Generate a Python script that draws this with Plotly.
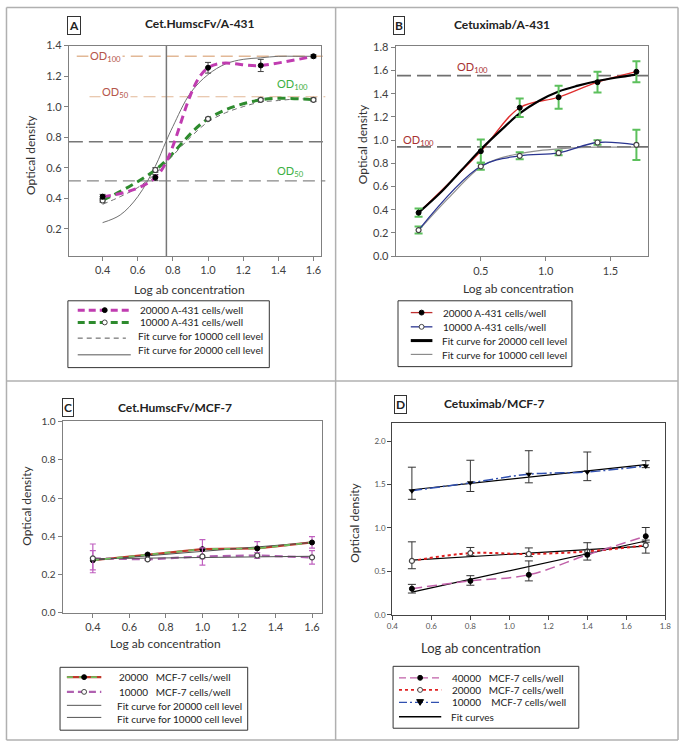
import plotly.graph_objects as go

W, H = 685, 747
FONT = "Lato"


def px(v):
    return v / W


def py(v):
    return 1 - v / H


# ---------------- Panel A : Cet.HumscFv / A-431 ----------------
a_x = [0.40, 0.70, 1.00, 1.30, 1.60]
a_20000 = [0.41, 0.535, 1.255, 1.27, 1.33]
a_20000_err = [0.015, 0.02, 0.035, 0.04, 0.01]
a_10000 = [0.385, 0.585, 0.92, 1.045, 1.045]
a_10000_err = [0.012, 0.015, 0.01, 0.01, 0.012]
a_fit_x = [0.40, 0.50, 0.60, 0.70, 0.76, 0.80, 0.90, 1.00, 1.10, 1.20, 1.30, 1.40, 1.50, 1.60]
a_fit20000 = [0.24, 0.29, 0.41, 0.61, 0.77, 0.87, 1.09, 1.21, 1.28, 1.31, 1.32, 1.33, 1.33, 1.33]
a_fit10000 = [0.36, 0.41, 0.47, 0.56, 0.63, 0.68, 0.80, 0.90, 0.96, 1.00, 1.03, 1.04, 1.05, 1.05]
a_od100 = 1.33
a_od50 = 1.065
a_half20000 = 0.77
a_half10000 = 0.513
a_ec50 = 0.763

# ---------------- Panel B : Cetuximab / A-431 ----------------
b_x = [0.02, 0.50, 0.80, 1.10, 1.40, 1.70]
b_20000 = [0.375, 0.905, 1.28, 1.37, 1.50, 1.59]
b_20000_err = [0.035, 0.10, 0.08, 0.10, 0.09, 0.09]
b_10000 = [0.225, 0.775, 0.865, 0.89, 0.98, 0.96]
b_10000_err = [0.03, 0.03, 0.03, 0.02, 0.02, 0.13]
b_fit20000_x = [0.02, 0.20, 0.35, 0.50, 0.65, 0.80, 0.95, 1.10, 1.25, 1.40, 1.55, 1.70]
b_fit20000 = [0.375, 0.56, 0.74, 0.92, 1.08, 1.23, 1.34, 1.42, 1.47, 1.51, 1.54, 1.565]
b_fit10000_x = [0.02, 0.25, 0.50, 0.65, 0.80, 0.95, 1.10, 1.25, 1.40, 1.55, 1.70]
b_fit10000 = [0.22, 0.50, 0.77, 0.845, 0.885, 0.91, 0.925, 0.935, 0.94, 0.94, 0.94]
b_od100_20000 = 1.556
b_od100_10000 = 0.942

# ---------------- Panel C : Cet.HumscFv / MCF-7 ----------------
c_x = [0.40, 0.70, 1.00, 1.30, 1.60]
c_20000 = [0.275, 0.305, 0.333, 0.337, 0.368]
c_20000_err = [0.05, 0.005, 0.05, 0.035, 0.03]
c_10000 = [0.285, 0.28, 0.295, 0.30, 0.29]
c_10000_err = [0.075, 0.005, 0.045, 0.015, 0.035]
c_fit_x = [0.40, 1.60]
c_fit20000 = [0.275, 0.368]
c_fit10000 = [0.283, 0.296]

# ---------------- Panel D : Cetuximab / MCF-7 ----------------
d_x = [0.50, 0.80, 1.10, 1.40, 1.70]
d_40000 = [0.30, 0.39, 0.46, 0.69, 0.905]
d_40000_plus = [0.05, 0.06, 0.16, 0.06, 0.10]
d_40000_minus = [0.05, 0.05, 0.07, 0.06, 0.07]
d_20000 = [0.62, 0.71, 0.70, 0.73, 0.80]
d_20000_plus = [0.22, 0.065, 0.07, 0.10, 0.06]
d_20000_minus = [0.09, 0.03, 0.03, 0.03, 0.09]
d_10000 = [1.43, 1.52, 1.62, 1.645, 1.715]
d_10000_plus = [0.27, 0.26, 0.27, 0.23, 0.06]
d_10000_minus = [0.10, 0.10, 0.10, 0.10, 0.02]
d_fit_x = [0.50, 1.70]
d_fit40000 = [0.26, 0.85]
d_fit20000 = [0.63, 0.79]
d_fit10000 = [1.44, 1.73]

fig = go.Figure()

FILLED = dict(symbol="circle", size=5, color="black", line=dict(color="black", width=1))
OPEN = dict(symbol="circle", size=5, color="white", line=dict(color="#444", width=1.2))

# ---- Panel A traces
fig.add_trace(go.Scatter(x=a_fit_x, y=a_fit20000, mode="lines", xaxis="x", yaxis="y",
                         line=dict(color="#707070", width=1, shape="spline")))
fig.add_trace(go.Scatter(x=a_fit_x, y=a_fit10000, mode="lines", xaxis="x", yaxis="y",
                         line=dict(color="#707070", width=1, dash="5px,4px", shape="spline")))
fig.add_trace(go.Scatter(x=a_x, y=a_10000, mode="lines+markers", xaxis="x", yaxis="y",
                         line=dict(color="#2e8b2e", width=3, dash="8px,5px", shape="spline"),
                         marker=OPEN,
                         error_y=dict(type="data", array=a_10000_err, color="#444", thickness=1, width=3)))
fig.add_trace(go.Scatter(x=a_x, y=a_20000, mode="lines+markers", xaxis="x", yaxis="y",
                         line=dict(color="#c03cb0", width=3, dash="8px,5px", shape="spline"),
                         marker=FILLED,
                         error_y=dict(type="data", array=a_20000_err, color="#444", thickness=1, width=3)))

# ---- Panel B traces
fig.add_trace(go.Scatter(x=b_fit10000_x, y=b_fit10000, mode="lines", xaxis="x2", yaxis="y2",
                         line=dict(color="#909090", width=1.2, shape="spline")))
fig.add_trace(go.Scatter(x=b_x, y=b_10000, mode="lines+markers", xaxis="x2", yaxis="y2",
                         line=dict(color="#2a3590", width=1.3, shape="spline"),
                         marker=OPEN,
                         error_y=dict(type="data", array=b_10000_err, color="#5cc05c", thickness=2, width=4)))
fig.add_trace(go.Scatter(x=b_x, y=b_20000, mode="lines", xaxis="x2", yaxis="y2",
                         line=dict(color="#e03030", width=1.3, shape="spline")))
fig.add_trace(go.Scatter(x=b_fit20000_x, y=b_fit20000, mode="lines", xaxis="x2", yaxis="y2",
                         line=dict(color="black", width=2.2, shape="spline")))
fig.add_trace(go.Scatter(x=b_x, y=b_20000, mode="markers", xaxis="x2", yaxis="y2",
                         marker=FILLED,
                         error_y=dict(type="data", array=b_20000_err, color="#5cc05c", thickness=2, width=4)))

# ---- Panel C traces
fig.add_trace(go.Scatter(x=c_x, y=c_20000, mode="lines", xaxis="x3", yaxis="y3",
                         line=dict(color="#c0392b", width=2.2)))
fig.add_trace(go.Scatter(x=c_x, y=c_10000, mode="lines", xaxis="x3", yaxis="y3",
                         line=dict(color="#b060b0", width=2.2, dash="8px,5px")))
fig.add_trace(go.Scatter(x=c_fit_x, y=c_fit20000, mode="lines", xaxis="x3", yaxis="y3",
                         line=dict(color="#505050", width=1)))
fig.add_trace(go.Scatter(x=c_fit_x, y=c_fit10000, mode="lines", xaxis="x3", yaxis="y3",
                         line=dict(color="#505050", width=1)))
fig.add_trace(go.Scatter(x=c_x, y=c_20000, mode="lines+markers", xaxis="x3", yaxis="y3",
                         line=dict(color="#6fbf5f", width=1.8, dash="6px,6px"),
                         marker=FILLED,
                         error_y=dict(type="data", array=c_20000_err, color="#c060c0", thickness=1.2, width=3)))
fig.add_trace(go.Scatter(x=c_x, y=c_10000, mode="markers", xaxis="x3", yaxis="y3",
                         marker=OPEN,
                         error_y=dict(type="data", array=c_10000_err, color="#c060c0", thickness=1.2, width=3)))

# ---- Panel D traces
for fy in (d_fit40000, d_fit20000, d_fit10000):
    fig.add_trace(go.Scatter(x=d_fit_x, y=fy, mode="lines", xaxis="x4", yaxis="y4",
                             line=dict(color="black", width=1.2)))
fig.add_trace(go.Scatter(x=d_x, y=d_10000, mode="lines+markers", xaxis="x4", yaxis="y4",
                         line=dict(color="#3050b0", width=1.5, dash="10px,3px,2px,3px", shape="spline"),
                         marker=dict(symbol="triangle-down", size=6, color="black"),
                         error_y=dict(type="data", array=d_10000_plus, arrayminus=d_10000_minus,
                                      symmetric=False, color="#333", thickness=1, width=4)))
fig.add_trace(go.Scatter(x=d_x, y=d_20000, mode="lines+markers", xaxis="x4", yaxis="y4",
                         line=dict(color="#e02020", width=2, dash="dot", shape="spline"),
                         marker=OPEN,
                         error_y=dict(type="data", array=d_20000_plus, arrayminus=d_20000_minus,
                                      symmetric=False, color="#333", thickness=1, width=4)))
fig.add_trace(go.Scatter(x=d_x, y=d_40000, mode="lines+markers", xaxis="x4", yaxis="y4",
                         line=dict(color="#c060a8", width=1.5, dash="10px,5px", shape="spline"),
                         marker=FILLED,
                         error_y=dict(type="data", array=d_40000_plus, arrayminus=d_40000_minus,
                                      symmetric=False, color="#333", thickness=1, width=4)))


def axis(dom, rng, vals, size=11, color="#404040", line="#808080", anchor=None):
    d = dict(domain=dom, range=rng, tickvals=vals, tickformat=".1f", ticks="outside",
             ticklen=4, tickcolor=line, showline=True, linecolor=line, linewidth=1.3,
             mirror=True, showgrid=False, zeroline=False,
             tickfont=dict(family=FONT, size=size, color=color))
    if anchor:
        d["anchor"] = anchor
    return d


layout = dict(
    width=W, height=H, margin=dict(l=0, r=0, t=0, b=0),
    paper_bgcolor="white", plot_bgcolor="white", showlegend=False,
    font=dict(family=FONT, color="#222"),
    xaxis=axis([px(64), px(321)], [0.208, 1.645], [0.4, 0.6, 0.8, 1.0, 1.2, 1.4, 1.6], anchor="y"),
    yaxis=axis([py(253.3), py(39.3)], [0.022, 1.4], [0.2, 0.4, 0.6, 0.8, 1.0, 1.2, 1.4], anchor="x"),
    xaxis2=axis([px(396.7), px(653)], [-0.156, 1.786], [0.5, 1.0, 1.5], anchor="y2"),
    yaxis2=axis([py(253.6), py(39.3)], [0, 1.815], [0, 0.2, 0.4, 0.6, 0.8, 1.0, 1.2, 1.4, 1.6, 1.8], anchor="x2"),
    xaxis3=axis([px(57.7), px(321.7)], [0.235, 1.655], [0.4, 0.6, 0.8, 1.0, 1.2, 1.4, 1.6], anchor="y3"),
    yaxis3=axis([py(616.7), py(421.7)], [0, 1.0], [0, 0.2, 0.4, 0.6, 0.8, 1.0], size=10, anchor="x3"),
    xaxis4=axis([px(393.3), px(671)], [0.4, 1.8], [0.4, 0.6, 0.8, 1.0, 1.2, 1.4, 1.6, 1.8],
                size=8, color="#555", line="#444", anchor="y4"),
    yaxis4=axis([py(618.5), py(423.3)], [0, 2.21], [0, 0.5, 1.0, 1.5, 2.0],
                size=8, color="#555", line="#444", anchor="x4"),
)

shapes = []
ann = []

# panel borders
BC = "#b0b0b0"
for (x0, y0, x1, y1) in [(0.5, 0.5, 684, 0.5), (0.5, 0.5, 0.5, 746), (684, 0.5, 684, 746),
                         (0.5, 746, 684, 746), (335.5, 0.5, 335.5, 746), (0.5, 380.5, 684, 380.5)]:
    shapes.append(dict(type="line", xref="paper", yref="paper", x0=px(x0), x1=px(x1),
                       y0=py(y0), y1=py(y1), line=dict(color=BC, width=1.5)))

# Panel A reference lines
PEACH = "#e2b896"
shapes.append(dict(type="line", xref="paper", yref="y", x0=px(72), x1=px(325), y0=a_od100, y1=a_od100,
                   line=dict(color=PEACH, width=1.5, dash="12px,6px"), layer="below"))
shapes.append(dict(type="line", xref="paper", yref="y", x0=px(85), x1=px(325), y0=a_od50, y1=a_od50,
                   line=dict(color=PEACH, width=1.2, dash="12px,6px"), layer="below"))
shapes.append(dict(type="line", xref="paper", yref="y", x0=px(64), x1=px(325), y0=a_half20000, y1=a_half20000,
                   line=dict(color="#777", width=1.5, dash="14px,6px"), layer="below"))
shapes.append(dict(type="line", xref="paper", yref="y", x0=px(64), x1=px(325), y0=a_half10000, y1=a_half10000,
                   line=dict(color="#888", width=1.3, dash="12px,6px"), layer="below"))
shapes.append(dict(type="line", xref="x", yref="y", x0=a_ec50, x1=a_ec50, y0=0.022, y1=1.4,
                   line=dict(color="#777", width=1.5), layer="below"))

# Panel B reference lines
for lv in (b_od100_20000, b_od100_10000):
    shapes.append(dict(type="line", xref="paper", yref="y2", x0=px(398), x1=px(654), y0=lv, y1=lv,
                       line=dict(color="#707070", width=1.6, dash="14px,6px"), layer="below"))


def label(x, y, text, size=11, color="#222", bold=False, xanchor="center", yref="paper",
          angle=0, bg=None, border=None):
    a = dict(x=px(x), y=(py(y) if yref == "paper" else y), xref="paper", yref=yref,
             text=(f"<b>{text}</b>" if bold else text), showarrow=False,
             xanchor=xanchor, yanchor="middle", textangle=angle,
             font=dict(family=FONT, size=size, color=color))
    if bg:
        a["bgcolor"] = bg
    if border:
        a["bordercolor"] = border
        a["borderwidth"] = 1
        a["borderpad"] = 1
    ann.append(a)


BROWN = "#b5564a"
GREEN = "#3cb043"
# OD labels A
label(101, a_od100, "OD<sub>100</sub>", size=11, color=BROWN, yref="y", bg="white")
label(111, 87, "OD<sub>50</sub>", size=11, color=BROWN, bg="white")
label(292, 79, "OD<sub>100</sub>", size=11, color=GREEN)
label(290, 167, "OD<sub>50</sub>", size=11, color=GREEN)
# OD labels B
label(475, 62, "OD<sub>100</sub>", size=11, color="#a83232")
label(420, 136, "OD<sub>100</sub>", size=11, color="#a83232")

# titles & panel letters
label(197, 17, "Cet.HumscFv/A-431", size=12, bold=True)
label(69, 19, "A", size=12, bold=True, border="#333")
label(505, 18, "Cetuximab/A-431", size=12, bold=True)
label(400, 19, "B", size=12, bold=True, border="#333")
label(172, 408, "Cet.HumscFv/MCF-7", size=12, bold=True)
label(63.5, 408, "C", size=12, bold=True, border="#333")
label(497, 404, "Cetuximab/MCF-7", size=12, bold=True)
label(401.5, 405, "D", size=12, bold=True, border="#333")

# axis titles
label(25, 151, "Optical density", size=12, color="#333", angle=-90)
label(187, 287, "Log ab concentration", size=12, color="#333")
label(363, 140, "Optical density", size=12, color="#333", angle=-90)
label(522, 286, "Log ab concentration", size=12, color="#333")
label(21, 508, "Optical density", size=12, color="#333", angle=-90)
label(162, 648, "Log ab concentration", size=12, color="#333")
label(355, 525, "Optical density", size=12, color="#333", angle=-90)
label(483, 652, "Log ab concentration", size=13, color="#333")


# ---- manual legends
def box(x0, y0, x1, y1):
    shapes.append(dict(type="rect", xref="paper", yref="paper", x0=px(x0), x1=px(x1),
                       y0=py(y1), y1=py(y0), line=dict(color="#333", width=1), fillcolor="white",
                       layer="above"))


def lline(x0, x1, y, color, width=1, dash="solid"):
    shapes.append(dict(type="line", xref="paper", yref="paper", x0=px(x0), x1=px(x1),
                       y0=py(y), y1=py(y), line=dict(color=color, width=width, dash=dash)))


def ldot(cx, cy, filled=True, r=2.5):
    shapes.append(dict(type="circle", xref="paper", yref="paper", x0=px(cx - r), x1=px(cx + r),
                       y0=py(cy + r), y1=py(cy - r), fillcolor=("black" if filled else "white"),
                       line=dict(color=("black" if filled else "#444"), width=1)))


def ltri(cx, cy):
    shapes.append(dict(type="path", xref="paper", yref="paper",
                       path=f"M {px(cx-3.5)},{py(cy-2.8)} L {px(cx+3.5)},{py(cy-2.8)} L {px(cx)},{py(cy+3)} Z",
                       fillcolor="black", line=dict(color="black", width=1)))


def ltext(x, y, t, size=10):
    label(x, y, t, size=size, color="#222", xanchor="left")


NB = "\u00a0"
# Legend A
box(63, 299, 268, 367)
lline(73, 128, 308.5, "#c03cb0", 3, "7px,4px"); ldot(100.5, 308.5, True)
ltext(134, 308, "20000 A-431 cells/well")
lline(73, 128, 321, "#2e8b2e", 3, "7px,4px"); ldot(100.5, 321, False)
ltext(134, 320.5, "10000 A-431 cells/well")
lline(73, 122, 337, "#555", 1, "5px,4px")
ltext(132, 334.5, "Fit curve for 10000 cell level")
lline(73, 127, 354, "#555", 1)
ltext(132, 349, "Fit curve for 20000 cell level")

# Legend B
box(399, 299, 576, 366)
lline(412, 434, 311, "#c03030", 1.3); ldot(423, 311, True)
ltext(443, 311.5, "20000 A-431 cells/well")
lline(412, 434, 325.5, "#2a3590", 1.3); ldot(423, 325.5, False)
ltext(443, 326, "10000 A-431 cells/well")
lline(412, 434, 339.5, "black", 3)
ltext(441.5, 340, "Fit curve for 20000 cell level")
lline(412, 434, 353.5, "#777", 1)
ltext(441.5, 354, "Fit curve for 10000 cell level")

# Legend C
box(55, 672, 246, 736)
lline(62, 97, 682, "#c0392b", 2.2); lline(62, 97, 682, "#6fbf5f", 1.8, "6px,6px"); ldot(79.5, 682, True)
ltext(113, 682, f"20000{NB*3}MCF-7 cells/well")
lline(62, 97, 697, "#b060b0", 2.2, "7px,4px"); ldot(79.5, 697, False)
ltext(113, 697, f"10000{NB*3}MCF-7 cells/well")
lline(62, 97, 710.7, "#555", 1)
ltext(111, 711, "Fit curve for 20000 cell level")
lline(62, 97, 723, "#555", 1)
ltext(111, 725, "Fit curve for 10000 cell level")

# Legend D
box(394, 671, 583, 734)
lline(400, 443, 682.7, "#c060a8", 1.3, "7px,4px"); ldot(421.5, 682.7, True)
ltext(451.5, 682.7, f"40000{NB*3}MCF-7 cells/well", size=10)
lline(400, 443, 695, "#e02020", 1.8, "dot"); ldot(421.5, 695, False)
ltext(451.5, 695, f"20000{NB*3}MCF-7 cells/well", size=10)
lline(400, 443, 707.7, "#3050b0", 1.3, "8px,3px,2px,3px"); ltri(421.5, 707.7)
ltext(451.5, 707.7, f"10000{NB*4}MCF-7 cells/well", size=10)
lline(400, 443, 722.3, "black", 1.3)
ltext(451, 722.3, "Fit curves", size=10)

layout["shapes"] = shapes
layout["annotations"] = ann
fig.update_layout(**layout)

fig.write_html("out.html", config={"displayModeBar": False},
               post_script="document.body.style.margin='0px';")
